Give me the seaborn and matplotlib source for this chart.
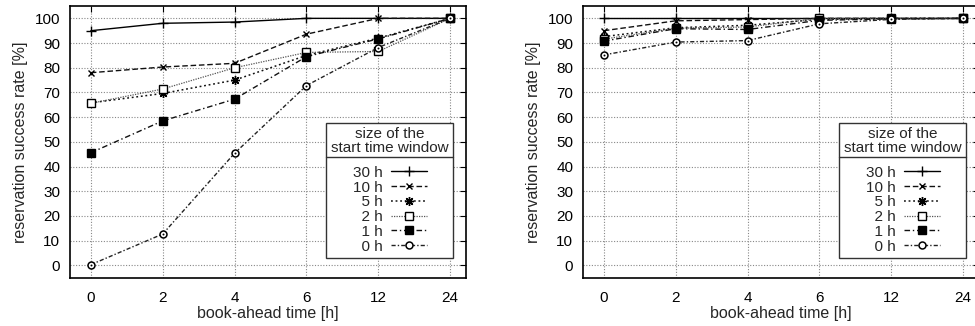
import numpy as np
import pandas as pd
import matplotlib
matplotlib.use("Agg")
import matplotlib.pyplot as plt
from matplotlib.lines import Line2D
import seaborn as sns

# ---- data ----
book_ahead = ["0", "2", "4", "6", "12", "24"]
windows = ["30 h", "10 h", "5 h", "2 h", "1 h", "0 h"]

left_30h = [95.0, 98.0, 98.5, 100.0, 100.0, 100.0]
left_10h = [78.0, 80.3, 81.8, 93.6, 100.0, 100.0]
left_5h = [65.8, 69.6, 75.0, 85.0, 92.0, 100.0]
left_2h = [65.6, 71.4, 80.0, 86.2, 86.6, 100.0]
left_1h = [45.6, 58.5, 67.3, 84.5, 91.7, 100.0]
left_0h = [0.3, 12.7, 45.4, 72.8, 88.2, 100.0]

right_30h = [100.0, 100.0, 100.0, 100.0, 100.0, 100.0]
right_10h = [95.0, 99.0, 99.5, 100.0, 100.0, 100.0]
right_5h = [92.6, 96.2, 97.2, 99.6, 100.0, 100.0]
right_2h = [91.6, 96.0, 96.5, 100.0, 100.0, 100.0]
right_1h = [90.8, 95.8, 95.5, 99.2, 99.8, 100.0]
right_0h = [85.2, 90.4, 91.0, 97.8, 99.6, 100.0]

left_series = [left_30h, left_10h, left_5h, left_2h, left_1h, left_0h]
right_series = [right_30h, right_10h, right_5h, right_2h, right_1h, right_0h]

y_ticks = [0, 10, 20, 30, 40, 50, 60, 70, 80, 90, 100]

# ---- style ----
sns.set_theme(style="white")
plt.rcParams["font.family"] = ["Liberation Sans", "DejaVu Sans"]
plt.rcParams["mathtext.fontset"] = "dejavusans"

styles = [
    dict(ls="-", marker="+", ms=7, mfc="black", mew=1.0, color="black", lw=1.0),
    dict(ls=(0, (4, 2)), marker="x", ms=5, mfc="black", mew=1.0, color="#111111", lw=1.0),
    dict(ls=(0, (1.2, 1.8)), marker=(8, 2, 0), ms=6.5, mfc="black", mew=1.0, color="#111111", lw=1.1),
    dict(ls=(0, (1, 1)), marker="s", ms=5.5, mfc="white", mew=1.0, color="#555555", lw=0.9),
    dict(ls=(0, (4, 2, 1, 2)), marker="s", ms=5.5, mfc="black", mew=1.0, color="#111111", lw=1.0),
    dict(ls=(0, (3, 1.5, 1, 1.5)), marker="o", ms=5, mfc="white", mew=1.1, color="#222222", lw=1.0),
]

W, H = 975, 326
fig = plt.figure(figsize=(W / 100, H / 100), dpi=100)

def make_axes(left_px):
    return fig.add_axes([left_px / W, (H - 278) / H, 396 / W, 272 / H])

def draw_panel(ax, series_list):
    for name, vals, st in zip(windows, series_list, styles):
        df = pd.DataFrame({"pos": np.arange(len(book_ahead)), "rate": vals})
        sns.lineplot(data=df, x="pos", y="rate", ax=ax, color=st["color"],
                     linestyle=st["ls"], linewidth=st["lw"], marker=st["marker"],
                     markersize=st["ms"], markerfacecolor=st["mfc"],
                     markeredgecolor="black", markeredgewidth=st["mew"],
                     label=name, legend=False)
        if name == "0 h":
            sns.scatterplot(data=df, x="pos", y="rate", ax=ax, color="black",
                            s=2, marker="o", linewidth=0, legend=False, zorder=5)
    ax.set_xlim(-0.29, 5.22)
    ax.set_ylim(-5.1, 105.0)
    ax.set_xticks(np.arange(len(book_ahead)))
    ax.set_xticklabels(book_ahead)
    ax.set_yticks(y_ticks)
    ax.grid(True, color="#888888", linestyle=(0, (1, 1.5)), linewidth=0.8)
    ax.tick_params(direction="in", length=4, width=0.8, top=True, right=True,
                   labelsize=11, pad=7, colors="black")
    ax.tick_params(axis="x", pad=9)
    for sp in ax.spines.values():
        sp.set_color("black")
        sp.set_linewidth(1.2)
    ax.set_xlabel("book-ahead time [h]", fontsize=11.5, labelpad=1)
    ax.set_ylabel("reservation success rate [%]", fontsize=11.5, labelpad=5)

    handles = [Line2D([0], [0], color=st["color"], linestyle=st["ls"], linewidth=st["lw"],
                      marker=st["marker"], markersize=st["ms"],
                      markerfacecolor=st["mfc"], markeredgecolor="black",
                      markeredgewidth=st["mew"]) for st in styles]
    labels = ["30 h", "10 h", "\u20075 h", "\u20072 h", "\u20071 h", "\u20070 h"]
    leg = ax.legend(handles, labels, title="size of the\nstart time window",
                    loc="lower right", bbox_to_anchor=(0.967, 0.073),
                    borderaxespad=0, markerfirst=False, frameon=True,
                    fancybox=False, edgecolor="#333333", framealpha=1,
                    fontsize=11, title_fontsize=11, handlelength=2.3,
                    labelspacing=0.05, borderpad=0.3, handletextpad=0.6)
    leg.get_title().set_multialignment("center")
    leg.get_title().set_linespacing(0.95)
    leg._legend_box.sep = 8
    leg.get_frame().set_linewidth(1.0)
    return leg

ax1 = make_axes(70)
leg1 = draw_panel(ax1, left_series)
ax2 = make_axes(583)
leg2 = draw_panel(ax2, right_series)

fig.canvas.draw()
for leg in (leg1, leg2):
    fb = leg.get_frame().get_window_extent()
    tb = leg.get_title().get_window_extent()
    y = tb.y0 - 2
    fig.add_artist(Line2D([fb.x0 / W, fb.x1 / W], [y / H, y / H],
                          color="#333333", linewidth=1.0,
                          transform=fig.transFigure))

fig.savefig("out.png", dpi=100)
